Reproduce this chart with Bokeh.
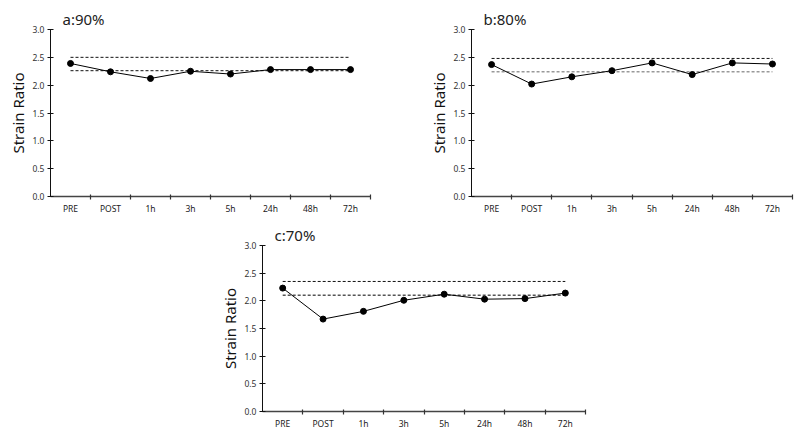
from bokeh.plotting import figure
from bokeh.models import FixedTicker, NumeralTickFormatter, ColumnDataSource, Range1d, Spacer, Title
from bokeh.layouts import column, row
from bokeh.embed import file_html
from bokeh.resources import INLINE

categories = ["PRE", "POST", "1h", "3h", "5h", "24h", "48h", "72h"]
titles = ["a:90%", "b:80%", "c:70%"]
values_a = [2.39, 2.24, 2.12, 2.25, 2.20, 2.28, 2.28, 2.28]
values_b = [2.37, 2.02, 2.15, 2.26, 2.40, 2.19, 2.40, 2.38]
values_c = [2.23, 1.67, 1.81, 2.01, 2.12, 2.03, 2.04, 2.14]
upper_ref = [2.50, 2.48, 2.35]
lower_ref = [2.26, 2.24, 2.10]
lower_colors = ["#111111", "#999999", "#555555"]
y_ticks = [0.0, 0.5, 1.0, 1.5, 2.0, 2.5, 3.0]

FONT = "Noto Sans"
centers = [i + 0.5 for i in range(len(categories))]
bounds = [i + 1 for i in range(len(categories))]


def make_panel(title, vals, up, lo, lo_color, left, right, top, bottom, fw, fh):
    p = figure(frame_width=fw, frame_height=fh, output_backend="svg",
               toolbar_location=None, x_range=Range1d(0, len(categories)),
               y_range=Range1d(0, 3.0), min_border_left=left, min_border_right=right,
               min_border_top=top, min_border_bottom=bottom)
    p.title = Title(text=title, text_font=FONT, text_font_size="15px",
                    text_font_style="normal", text_color="#222222", align="left",
                    offset=12, standoff=2)
    p.outline_line_color = None
    p.grid.visible = False
    src = ColumnDataSource(dict(x=centers, y=vals))
    p.line([centers[0], centers[-1]], [up, up], line_color="#111111",
           line_dash="3 2", line_width=1)
    p.line([centers[0], centers[-1]], [lo, lo], line_color=lo_color,
           line_dash="3 2", line_width=1.5 if lo_color != "#111111" else 1)
    p.line("x", "y", source=src, line_color="black", line_width=1)
    p.scatter("x", "y", source=src, size=6, color="black")

    xa = p.xaxis[0]
    xa.ticker = FixedTicker(ticks=centers, minor_ticks=bounds)
    xa.major_label_overrides = {c: lab for c, lab in zip(centers, categories)}
    xa.major_tick_line_color = None
    xa.major_tick_in = 0
    xa.major_tick_out = 3
    xa.minor_tick_line_color = "#333333"
    xa.minor_tick_in = 2
    xa.minor_tick_out = 3
    xa.minor_tick_line_width = 1.2
    xa.axis_line_color = "#444444"
    xa.axis_line_width = 1.5
    xa.major_label_text_font = FONT
    xa.major_label_text_font_size = "8.5px"
    xa.major_label_text_color = "#222222"
    xa.major_label_standoff = 3

    ya = p.yaxis[0]
    ya.ticker = FixedTicker(ticks=y_ticks)
    ya.formatter = NumeralTickFormatter(format="0.0")
    ya.minor_tick_line_color = None
    ya.major_tick_in = 3
    ya.major_tick_out = 3
    ya.axis_line_color = "#111111"
    ya.major_tick_line_color = "#111111"
    ya.major_label_text_font = FONT
    ya.major_label_text_font_size = "8.5px"
    ya.major_label_text_color = "#333333"
    ya.major_label_standoff = 3
    ya.axis_label = "Strain Ratio"
    ya.axis_label_text_font = FONT
    ya.axis_label_text_font_size = "15px"
    ya.axis_label_text_font_style = "normal"
    ya.axis_label_text_color = "#111111"
    ya.axis_label_standoff = 1
    return p


pa = make_panel(titles[0], values_a, upper_ref[0], lower_ref[0], lower_colors[0],
                50, 51, 29, 22, 320, 167)
pb = make_panel(titles[1], values_b, upper_ref[1], lower_ref[1], lower_colors[1],
                50, 4, 29, 22, 321, 167)
pc = make_panel(titles[2], values_c, upper_ref[2], lower_ref[2], lower_colors[2],
                50, 6, 27, 20, 323, 166)

layout = column(row(pa, pb, spacing=0), row(Spacer(width=212, height=10), pc, spacing=0), spacing=0)

open("out.html", "w").write(file_html(layout, INLINE))
